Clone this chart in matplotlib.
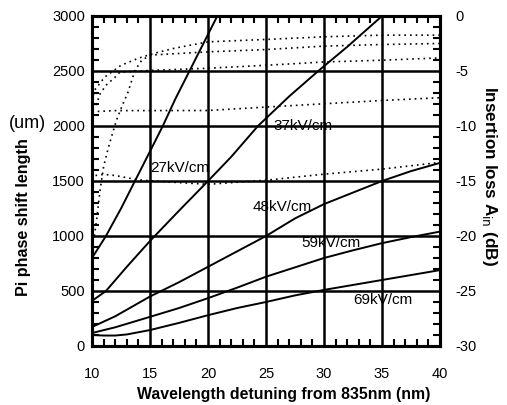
import numpy as np
import matplotlib
matplotlib.use('Agg')
import matplotlib.pyplot as plt
from matplotlib.ticker import MultipleLocator

plt.rcParams['font.family'] = ['Liberation Sans', 'DejaVu Sans']
plt.rcParams['axes.unicode_minus'] = False

# phase shift length (um) vs wavelength detuning (nm), solid curves
x27 = [10, 11.2, 12.5, 13.7, 15, 16.1, 17.2, 18.4, 19.6, 20.8]
y27 = [800, 1000, 1250, 1500, 1770, 2000, 2250, 2500, 2750, 3000]
x37 = [10, 11.2, 13, 15, 17.5, 20, 22, 24.3, 27, 29.5, 32, 35]
y37 = [410, 500, 720, 955, 1230, 1500, 1720, 2000, 2270, 2500, 2720, 3000]
x48 = [10, 12, 15, 17.5, 20, 22.5, 25, 27.5, 30, 32.5, 35, 37.5, 40]
y48 = [173, 270, 450, 580, 720, 860, 1000, 1160, 1290, 1395, 1500, 1590, 1665]
x59 = [10, 12, 15, 17.5, 20, 22.5, 25, 27.5, 30, 32.5, 35, 37.5, 40]
y59 = [118, 170, 265, 345, 435, 530, 630, 715, 800, 870, 935, 990, 1040]
x69 = [10, 11, 12, 13, 15, 17.5, 20, 22.5, 25, 27.5, 30, 32.5, 35, 37.5, 40]
y69 = [100, 95, 95, 105, 145, 210, 280, 345, 400, 460, 510, 555, 600, 645, 690]

# insertion loss (dB) curves, dotted, right axis
xa = [10, 10.2, 11.1, 12.5, 14, 15.4, 17.1, 20, 25, 30, 35, 40]
la = [-7.7, -6.76, -5.55, -4.48, -3.84, -3.38, -2.93, -2.35, -2.13, -1.89, -1.74, -1.74]
xb = [10.2, 10.4, 10.7, 11.0, 11.4, 11.8, 12.1, 12.6, 13.1, 13.7, 14.3, 15.1, 20, 25, 30, 35, 40]
lb = [-20.0, -18.5, -15.8, -13.7, -12.0, -10.55, -9.5, -8.15, -6.93, -4.95, -4.0, -3.55,
      -3.26, -3.05, -2.74, -2.59, -2.5]
xc = [10, 10.4, 10.7, 11.2, 12, 12.4, 15, 20, 25, 30, 35, 40]
lc = [-8.5, -7.95, -7.07, -6.3, -5.55, -5.1, -4.95, -4.75, -4.48, -4.18, -4.02, -3.81]
xd = [10, 12, 15, 20, 25, 30, 35, 40]
ld = [-8.7, -8.6, -8.6, -8.59, -8.28, -7.98, -7.68, -7.43]
xe = [10.3, 11, 12, 14, 16, 20, 25, 30, 35, 40]
le = [-14.5, -14.4, -14.5, -14.9, -15.05, -15.3, -14.93, -14.38, -13.92, -13.31]

labels = ['27kV/cm', '37kV/cm', '48kV/cm', '59kV/cm', '69kV/cm']
label_pos = [(15.0, 1620), (25.6, 2000), (23.8, 1264), (28.0, 936), (32.5, 418)]

fig = plt.figure(figsize=(5.07, 4.05), dpi=100)
ax = fig.add_axes([0.1815, 0.1457, 0.868 - 0.1815, 0.9605 - 0.1457])
ax2 = ax.twinx()

for xs, ys in [(x27, y27), (x37, y37), (x48, y48), (x59, y59), (x69, y69)]:
    ax.plot(xs, ys, color='black', lw=1.4, zorder=3)

for xs, ls in [(xa, la), (xb, lb), (xc, lc), (xd, ld), (xe, le)]:
    ax2.plot(xs, ls, color='black', lw=1.2, linestyle=(0, (1, 2.4)), zorder=3)

for t, (tx, ty) in zip(labels, label_pos):
    ax.text(tx, ty, t, fontsize=11, va='center', ha='left', zorder=4)

ax.set_xlim(10, 40)
ax.set_ylim(0, 3000)
ax2.set_ylim(-30, 0)

ax.xaxis.set_major_locator(MultipleLocator(5))
ax.xaxis.set_minor_locator(MultipleLocator(1))
ax.yaxis.set_major_locator(MultipleLocator(500))
ax.yaxis.set_minor_locator(MultipleLocator(100))
ax2.yaxis.set_major_locator(MultipleLocator(5))
ax2.yaxis.set_minor_locator(MultipleLocator(1))

ax.grid(True, which='major', color='black', lw=1.8)
ax.set_axisbelow(True)

ax.tick_params(which='both', direction='in', top=True, right=False, width=1.5)
ax.tick_params(which='major', length=0)
ax.tick_params(which='minor', length=5)
ax.tick_params(axis='x', which='major', pad=15, labelsize=10.5)
ax.tick_params(axis='y', which='major', pad=5, labelsize=10.5)
ax2.tick_params(which='both', direction='in', width=1.5)
ax2.tick_params(which='major', length=0, pad=11, labelsize=10.5)
ax2.tick_params(which='minor', length=5)

for a in (ax, ax2):
    for s in a.spines.values():
        s.set_linewidth(2.2)

ax.set_xlabel('Wavelength detuning from 835nm (nm)', fontsize=11.4, fontweight='bold')
ax.xaxis.set_label_coords(0.552, -0.125)
ax.set_ylabel('Pi phase shift length', fontsize=11.6, fontweight='bold')
ax.yaxis.set_label_coords(-0.175, 0.39)
ax2.set_ylabel(r'Insertion loss A$_{\mathrm{in}}$ (dB)', fontsize=12.3, fontweight='bold',
               rotation=270, va='center')
ax2.yaxis.set_label_coords(1.141, 0.515)
fig.text(0.055, 0.695, '(um)', fontsize=13, ha='center', va='center')

fig.savefig('out.png', dpi=100)
